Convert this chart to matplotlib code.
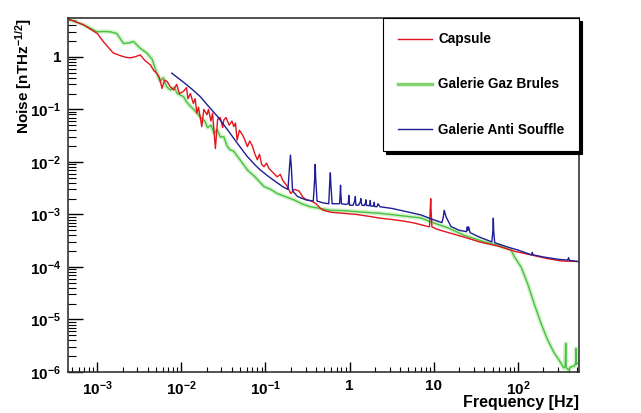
import matplotlib
matplotlib.use('Agg')
import matplotlib.pyplot as plt
import numpy as np
from matplotlib.ticker import LogLocator, FixedLocator, FuncFormatter, NullFormatter

plt.rcParams['font.family'] = 'Liberation Sans'
plt.rcParams['font.weight'] = 'bold'
plt.rcParams['mathtext.fontset'] = 'custom'
plt.rcParams['mathtext.rm'] = 'Liberation Sans:bold'
plt.rcParams['mathtext.it'] = 'Liberation Sans:bold'
plt.rcParams['mathtext.bf'] = 'Liberation Sans:bold'

# Capsule (red)
cap_f = [4.6e-4, 6.9e-4, 1.0e-3, 1.2e-3, 1.55e-3, 1.9e-3, 2.2e-3, 2.47e-3, 2.8e-3, 3.25e-3,
         3.7e-3, 4.3e-3, 4.7e-3, 5.1e-3, 5.5e-3, 5.9e-3, 6.3e-3, 6.8e-3,
         7.4e-3, 8.1e-3, 8.8e-3, 9.5e-3, 0.0106, 0.0115, 0.012, 0.0128, 0.0139, 0.0146,
         0.0153, 0.016, 0.0175, 0.0185, 0.0202, 0.021, 0.0225, 0.0235, 0.0254, 0.027,
         0.029, 0.031, 0.032, 0.034, 0.037, 0.04, 0.042, 0.044, 0.046, 0.049,
         0.052, 0.056, 0.061, 0.065, 0.07, 0.075, 0.08, 0.085, 0.09, 0.096,
         0.103, 0.11, 0.12, 0.138, 0.15, 0.16, 0.18, 0.2, 0.22, 0.25,
         0.28, 0.31, 0.35, 0.4, 0.45, 0.49, 0.6, 0.85, 1.2, 1.7,
         2.3, 3.2, 4.3, 5.8, 7.5, 8.9, 9.1, 9.2, 9.3, 9.5,
         11, 15, 23, 35, 58, 90, 142, 220, 330, 513]
cap_v = [5.2, 4.07, 2.8, 1.9, 1.19, 1.05, 0.98, 0.96, 1.0, 1.09,
         0.85, 0.7, 0.55, 0.49, 0.4, 0.25, 0.36, 0.34,
         0.27, 0.235, 0.3, 0.2, 0.22, 0.26, 0.16, 0.2, 0.13, 0.16,
         0.085, 0.11, 0.047, 0.1, 0.079, 0.1, 0.06, 0.085, 0.018, 0.065,
         0.07, 0.045, 0.063, 0.07, 0.05, 0.06, 0.047, 0.055, 0.026, 0.04,
         0.035, 0.028, 0.0195, 0.025, 0.02, 0.014, 0.011, 0.014, 0.009, 0.0081,
         0.0095, 0.0075, 0.0065, 0.0052, 0.0058, 0.0045, 0.0035, 0.0025, 0.003, 0.0028,
         0.0021, 0.0019, 0.0018, 0.0016, 0.0013, 0.0012, 0.0011, 0.00105, 0.001, 0.00092,
         0.00085, 0.0008, 0.00075, 0.00069, 0.00062, 0.00058, 0.0014, 0.002, 0.0012, 0.00058,
         0.00052, 0.00045, 0.00037, 0.0003, 0.00025, 0.0002, 0.00017, 0.000145, 0.00013, 0.000127]

# Galerie Gaz Brules (green)
gaz_f = [4.6e-4, 6.9e-4, 1.0e-3, 1.2e-3, 1.43e-3, 1.7e-3, 2.06e-3, 2.4e-3, 2.7e-3, 3.25e-3,
         3.9e-3, 4.5e-3, 5.1e-3, 5.6e-3, 6.1e-3, 6.7e-3, 7.4e-3,
         8.2e-3, 9e-3, 0.0106, 0.0115, 0.0125, 0.014, 0.0153, 0.017, 0.019, 0.0205,
         0.0226, 0.0245, 0.0266, 0.029, 0.032, 0.035, 0.038, 0.042, 0.046, 0.052,
         0.056, 0.061, 0.068, 0.075, 0.085, 0.096, 0.115, 0.138, 0.17, 0.217,
         0.27, 0.34, 0.45, 0.59, 0.85, 1.3, 2.3, 4.0, 7.0, 10,
         15, 23, 40, 58, 83, 90, 109, 130, 156, 188,
         225, 270, 300, 325, 350, 365, 370, 375, 400, 428,
         470, 485, 490, 495, 520]
gaz_v = [5.2, 4.1, 3.0, 3.05, 3.0, 2.8, 1.8, 1.85, 1.96, 1.46,
         1.18, 0.9, 0.49, 0.34, 0.4, 0.27, 0.235,
         0.26, 0.2, 0.175, 0.14, 0.12, 0.1, 0.085, 0.07, 0.06, 0.045,
         0.05, 0.035, 0.041, 0.03, 0.03, 0.02, 0.017, 0.016, 0.013, 0.01,
         0.0085, 0.007, 0.006, 0.0052, 0.0042, 0.0034, 0.003, 0.0025, 0.0022, 0.0019,
         0.0016, 0.0014, 0.0013, 0.0012, 0.00118, 0.00112, 0.00105, 0.00095, 0.00086, 0.00069,
         0.00055, 0.0004, 0.0003, 0.00026, 0.00021, 0.00016, 0.0001, 4.9e-5, 2.0e-5, 8.5e-6,
         4.1e-6, 2.3e-6, 1.8e-6, 1.47e-6, 1.2e-6, 1.3e-6, 3.5e-6, 1.2e-6, 1.1e-6, 1.26e-6,
         1.3e-6, 1.5e-6, 2.8e-6, 1.4e-6, 1.5e-6]

# Galerie Anti Souffle (blue)
anti_f = [0.0077, 0.0106, 0.0135, 0.0168, 0.021, 0.027, 0.035, 0.046, 0.06, 0.075, 0.087, 0.11, 0.135, 0.164,
          0.185, 0.193, 0.198, 0.203, 0.21, 0.24, 0.3,
          0.37, 0.385, 0.39, 0.395, 0.41, 0.49,
          0.565, 0.58, 0.59, 0.6, 0.62, 0.7,
          0.76, 0.775, 0.78, 0.785, 0.8, 0.9,
          0.965, 0.975, 0.98, 0.985, 1.0, 1.1,
          1.16, 1.17, 1.175, 1.19, 1.28,
          1.35, 1.36, 1.37, 1.4, 1.5,
          1.55, 1.56, 1.58, 1.7,
          1.75, 1.76, 1.78, 1.9,
          1.95, 1.96, 1.98, 2.1,
          2.15, 2.17, 2.3, 3.2, 4.5, 7, 10,
          12.5, 13, 13.3, 14, 16, 20,
          24.5, 25, 25.5, 26, 27, 35,
          49, 50.5, 51, 51.5, 53, 75, 100,
          145, 148, 151, 200, 300, 390, 400, 410, 513]
anti_v = [0.49, 0.33, 0.24, 0.175, 0.115, 0.073, 0.042, 0.023, 0.013, 0.0088, 0.007, 0.0052, 0.0041, 0.0033,
          0.0030, 0.008, 0.0135, 0.008, 0.0028, 0.0022, 0.0019,
          0.0018, 0.005, 0.009, 0.005, 0.0018, 0.00165,
          0.0016, 0.004, 0.0062, 0.0035, 0.0016, 0.0016,
          0.0016, 0.0028, 0.0036, 0.0026, 0.0016, 0.00155,
          0.0016, 0.0021, 0.0023, 0.0019, 0.0015, 0.0015,
          0.0019, 0.0022, 0.0018, 0.0015, 0.0015,
          0.0018, 0.002, 0.0017, 0.0015, 0.00148,
          0.0017, 0.0019, 0.0015, 0.00146,
          0.0016, 0.00185, 0.00145, 0.00143,
          0.0016, 0.0017, 0.00142, 0.0014,
          0.0015, 0.0016, 0.0014, 0.0013, 0.00115, 0.00098, 0.00079,
          0.0007, 0.0009, 0.0012, 0.0009, 0.00059, 0.0005,
          0.00047, 0.00058, 0.0005, 0.00058, 0.00045, 0.00037,
          0.0003, 0.0005, 0.00085, 0.0005, 0.00029, 0.00024, 0.00021,
          0.00017, 0.00019, 0.00017, 0.000155, 0.00014, 0.000135, 0.00015, 0.000133, 0.000127]

labels = ['Capsule', 'Galerie Gaz Brules', 'Galerie Anti Souffle']
x_decades = [1e-3, 1e-2, 1e-1, 1, 10, 100]
y_decades = [1e-6, 1e-5, 1e-4, 1e-3, 1e-2, 1e-1, 1]

fig = plt.figure(figsize=(6.41, 4.13), dpi=100)
ax = fig.add_axes([68 / 641, 1 - 372 / 413, 511 / 641, 354 / 413])

# green drawn with a pale halo underneath
ax.plot(gaz_f, gaz_v, color='#b8e8ac', lw=3.2, alpha=0.6, solid_joinstyle='round')
ax.plot(gaz_f, gaz_v, color='#46c23e', lw=1.0)
ax.plot(cap_f, cap_v, color='#e3141e', lw=1.0)
ax.plot(anti_f, anti_v, color='#1e1e96', lw=1.0)

ax.set_xscale('log')
ax.set_yscale('log')
ax.set_xlim(4.5e-4, 532)
ax.set_ylim(1e-6, 5.5)


def decade_label(v, pos):
    e = int(round(np.log10(v)))
    if e == 0:
        return '1'
    if e == 1:
        return '10'
    return r'$10^{%d}$' % e


for axis, majors in ((ax.xaxis, x_decades), (ax.yaxis, y_decades)):
    axis.set_major_locator(FixedLocator(majors))
    axis.set_minor_locator(LogLocator(base=10, subs=np.arange(2, 10), numticks=20))
    axis.set_major_formatter(FuncFormatter(decade_label))
    axis.set_minor_formatter(NullFormatter())

ax.tick_params(axis='x', which='major', direction='in', length=7.2, width=1, labelsize=11, pad=5)
ax.tick_params(axis='x', which='minor', direction='in', length=3.6, width=0.8)
ax.tick_params(axis='y', which='major', direction='in', length=10.8, width=1, labelsize=11, pad=5)
ax.tick_params(axis='y', which='minor', direction='in', length=5.5, width=0.8)
ax.tick_params(top=False, right=False, which='both')

for sp in ax.spines.values():
    sp.set_linewidth(1.2)
    sp.set_color('#333333')

ax.set_ylabel(r'Noise [nTHz$^{-1/2}$]', loc='top', fontsize=11, fontweight='bold')
ax.yaxis.set_label_coords(-0.066, 1.0)
ax.set_xlabel('Frequency [Hz]', loc='right', fontsize=11.5, fontweight='bold')
ax.xaxis.set_label_coords(1.0, -0.064)

handles = [
    plt.Line2D([], [], color='#e3141e', lw=1.0),
    plt.Line2D([], [], color='#7fd46e', lw=2.5),
    plt.Line2D([], [], color='#1e1e96', lw=1.0),
]
leg = ax.legend(handles, labels, loc='upper right', bbox_to_anchor=(1, 1), borderaxespad=0,
                fancybox=False, framealpha=1, edgecolor='black',
                prop={'weight': 'bold', 'size': 9.8}, labelspacing=2.29, borderpad=1.05,
                handlelength=2.5, handletextpad=0.5, shadow={'color': 'black', 'alpha': 1})
leg.get_frame().set_linewidth(0.8)

fig.savefig('out.png', dpi=100)
